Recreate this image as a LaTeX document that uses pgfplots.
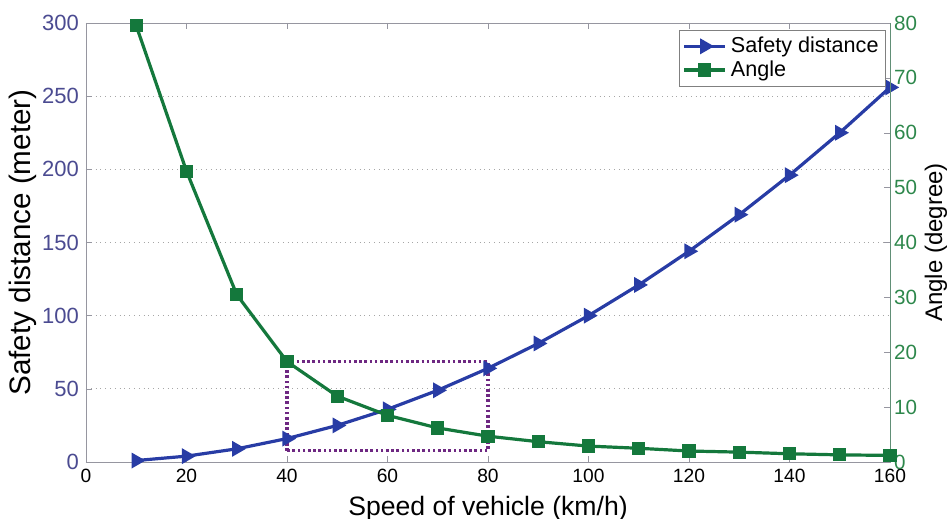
\documentclass[border=0pt]{standalone}
\usepackage{fontspec}
\setmainfont{Liberation Sans}
\usepackage{pgfplots}
\pgfplotsset{compat=1.18}

\definecolor{sdblue}{RGB}{40,60,165}
\definecolor{anggreen}{RGB}{20,120,60}
\definecolor{lefttick}{RGB}{75,75,145}
\definecolor{righttick}{RGB}{45,135,75}
\definecolor{boxpurple}{RGB}{110,40,130}
\definecolor{spine}{RGB}{150,150,160}

\pgfplotsset{
  common/.style={
    scale only axis, width=402pt, height=219.5pt,
    xmin=0, xmax=160,
    tick align=inside, major tick length=3pt,
    tick style={spine},
    /pgf/number format/assume math mode=true,
  },
}

\begin{document}
\begin{tikzpicture}
  % left axis: safety distance
  \begin{axis}[common, name=ax,
      ymin=0, ymax=300,
      xtick={0,20,...,160}, ytick={0,50,...,300},
      xtick pos=both, ytick pos=left,
      axis line style={spine},
      xticklabel style={font=\fontsize{9.6}{11}\selectfont},
      yticklabel style={text=lefttick, font=\fontsize{11}{13}\selectfont},
      ymajorgrids, major grid style={gray!70, dotted},
      xlabel={Speed of vehicle (km/h)},
      ylabel={Safety distance (meter)},
      xlabel style={font=\fontsize{13.3}{15}\selectfont},
      ylabel style={font=\fontsize{14.8}{17}\selectfont},
      ylabel shift=-4pt,
    ]
    \draw[boxpurple, line width=1.6pt, dash pattern=on 1.3pt off 1.3pt]
      (axis cs:40,7.7) rectangle (axis cs:80,68.5);
    \addplot[sdblue, line width=1.6pt, mark=triangle*, mark size=3pt,
        mark options={rotate=-90}]
      coordinates {(10,1) (20,4) (30,9) (40,16) (50,25) (60,36) (70,49) (80,64)
        (90,81) (100,100) (110,121) (120,144) (130,169) (140,196) (150,225) (160,256)};
  \end{axis}
  % right axis: angle
  \begin{axis}[common,
      ymin=0, ymax=80, ytick={0,10,...,80},
      axis x line=none, axis y line*=right,
      axis line style={righttick!50!spine},
      yticklabel style={text=righttick, font=\fontsize{10.3}{12}\selectfont, xshift=-1.5pt},
      ylabel={Angle (degree)},
      ylabel style={font=\fontsize{12}{14}\selectfont},
      ylabel shift=-3pt,
      legend style={at={(rel axis cs:0.995,0.985)}, anchor=north east,
        draw=gray, font=\fontsize{10.8}{12}\selectfont,
        inner sep=1.5pt, row sep=-1.5pt},
      legend cell align=left,
      legend image code/.code={
        \draw[mark repeat=2, mark phase=2, #1]
          plot coordinates {(0cm,0cm) (0.36cm,0cm) (0.72cm,0cm)};},
    ]
    \addlegendimage{sdblue, line width=1.6pt, mark=triangle*, mark size=3pt,
        mark options={rotate=-90}}
    \addlegendentry{Safety distance}
    \addplot[anggreen, line width=1.6pt, mark=square*, mark size=2.5pt]
      coordinates {(10,79.5) (20,53) (30,30.5) (40,18.3) (50,12) (60,8.5) (70,6.2)
        (80,4.7) (90,3.7) (100,2.9) (110,2.5) (120,2.0) (130,1.8) (140,1.5) (150,1.3) (160,1.2)};
    \addlegendentry{Angle}
  \end{axis}
  \pgfresetboundingbox
  \path ([shift={(-43pt,-28.5pt)}]ax.south west) rectangle ([shift={(29pt,11.5pt)}]ax.north east);
\end{tikzpicture}
\end{document}
